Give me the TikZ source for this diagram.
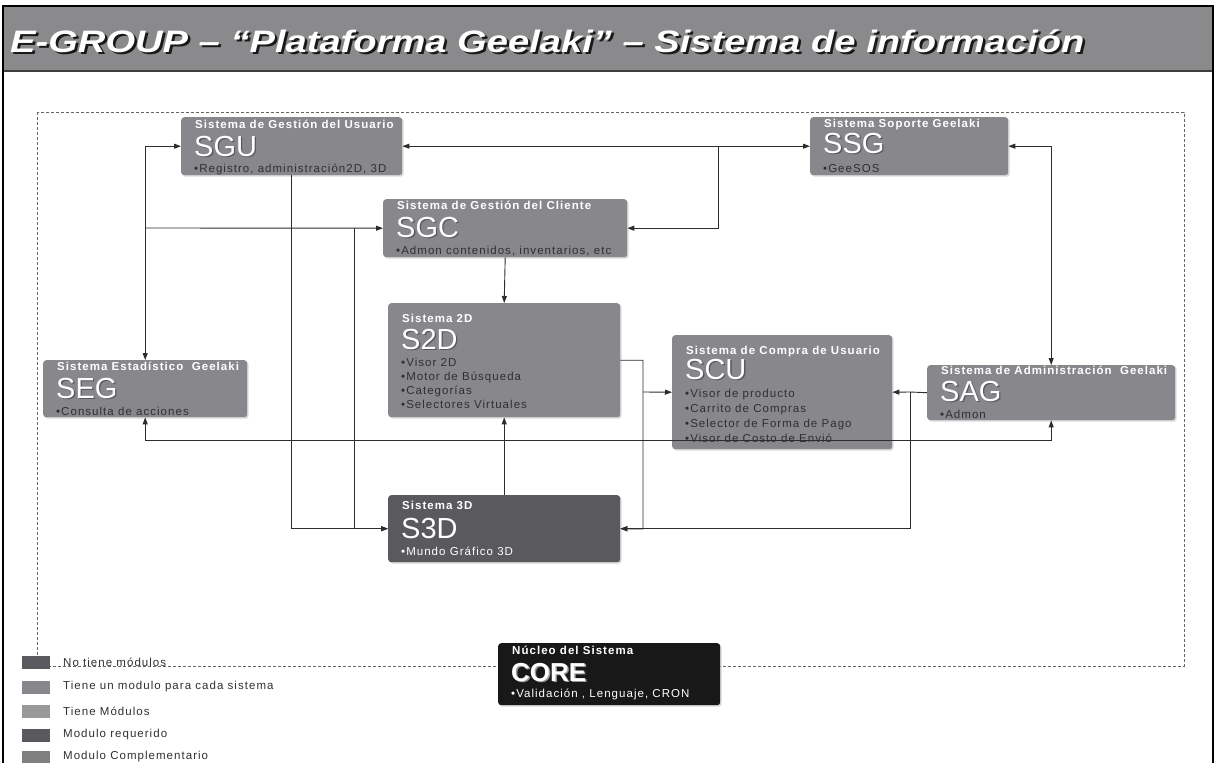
\documentclass[tikz,border=0pt]{standalone}
\usepackage{fontspec}
\setmainfont{Liberation Sans}
\newfontfamily\spacedfont[LetterSpace=9]{Liberation Sans}
\usetikzlibrary{arrows.meta}
\usetikzlibrary{shadows}

\definecolor{boxgray}{RGB}{136,136,140}
\definecolor{darkbox}{RGB}{90,90,94}
\definecolor{coreblack}{RGB}{24,24,24}
\definecolor{bargray}{RGB}{138,138,141}
\definecolor{itemgray}{RGB}{48,48,50}
\definecolor{linegray}{RGB}{45,45,45}

\newcommand{\shadowed}[3][black!65]{\leavevmode\rlap{\kern#2\raisebox{-#2}{\textcolor{#1}{#3}}}#3}

\tikzset{
  sysbox/.style={fill=boxgray, rounded corners=3pt, inner sep=0pt, anchor=north west,
    drop shadow={shadow xshift=1.5pt, shadow yshift=-1.5pt, fill=black!25, opacity=.6}},
  headtxt/.style={anchor=base west, inner sep=0pt, text=white, font=\spacedfont\bfseries\fontsize{11.5}{13}\selectfont},
  acrotxt/.style={anchor=base west, inner sep=0pt, text=white, font=\fontsize{29}{29}\selectfont},
  itemtxt/.style={anchor=base west, inner sep=0pt, text=itemgray, font=\spacedfont\fontsize{11.5}{13}\selectfont},
  titletxt/.style={anchor=base west, inner sep=0pt, text=white, font=\bfseries\itshape\fontsize{31}{31}\selectfont},
  link/.style={draw=linegray, line width=0.9pt, >={Triangle[length=7pt,width=5pt]}},
  legendbox/.style={minimum width=28pt, minimum height=13pt, inner sep=0pt, anchor=west},
  legendtxt/.style={anchor=west, inner sep=0pt, text=itemgray, font=\spacedfont\fontsize{11.5}{13}\selectfont}
}

\begin{document}
\begin{tikzpicture}[x=1pt, y=-1pt]
    \useasboundingbox (0,0) rectangle (1216,763);

    % title bar
    \fill[bargray] (3,7) rectangle (1213,71);
    \draw[black!75, line width=1.2pt] (3,71) -- (1213,71);
    \draw[black, line width=2.5pt] (3,770) -- (3,6) -- (1213,6) -- (1213,770);
    \node[titletxt] (title) at (10,52) {\shadowed[black!90]{2.5pt}{\scalebox{1.23}[1]{E-GROUP – “Plataforma Geelaki” – Sistema de información}}};

    % dashed frame
    \draw[black!60, line width=0.6pt, dash pattern=on 3pt off 2pt] (37,112) rectangle (1184,666);

    % boxes
    \node[sysbox, minimum width=221pt, minimum height=58pt] (sgu) at (181,117) {};
    \node[sysbox, minimum width=198pt, minimum height=58pt] (ssg) at (810,117) {};
    \node[sysbox, minimum width=244pt, minimum height=58pt] (sgc) at (383,199) {};
    \node[sysbox, minimum width=232pt, minimum height=114pt] (s2d) at (388,303) {};
    \node[sysbox, minimum width=220pt, minimum height=114pt] (scu) at (672,335) {};
    \node[sysbox, minimum width=248pt, minimum height=55pt] (sag) at (927,365) {};
    \node[sysbox, minimum width=204pt, minimum height=57pt] (seg) at (43,360) {};
    \node[sysbox, fill=darkbox, minimum width=232pt, minimum height=67pt] (s3d) at (388,495) {};
    \node[sysbox, fill=coreblack, minimum width=222pt, minimum height=62pt] (core) at (498,643) {};

    % connectors
    \draw[link, <->] (sgu.east) -- (ssg.west);
    \coordinate (jtop) at (718,146);
    \draw[link, ->] (jtop) |- (sgc.east);
    \draw[link, <->] (sgu.west) -| (seg.north);
    \coordinate (jleft) at (145,228);
    \draw[link, ->] (jleft) -- (sgc.west);
    \coordinate (jmid) at (354,228);
    \draw[link, ->] (jmid) |- (s3d.west);
    \draw[link, ->] (sgu.south) |- (s3d.west);
    \draw[link, ->] (sgc.south) -- (s2d.north);
    \draw[link, ->] (s3d.north) -- (s2d.south);
    \coordinate (jright) at (643,529);
    \draw[link, ->] (s2d.east) -| (jright) -- (s3d.east);
    \coordinate (jscu) at (643,392);
    \draw[link, ->] (jscu) -- (scu.west);
    \coordinate (jsag) at (910,392);
    \draw[link] (sag.west) -- (jsag);
    \draw[link, ->] (jsag) -- (scu.east);
    \draw[link, ->] (jsag) |- (s3d.east);
    \draw[link, <->] (ssg.east) -| (sag.north);
    \draw[link, <->] (seg.south) -- ++(0,23) -| (sag.south);

    % box texts
    \node[headtxt] (sgu-head) at (195,128) {Sistema de Gestión del Usuario};
    \node[acrotxt] (sgu-acro) at (194,156) {\shadowed{1.3pt}{SGU}};
    \node[itemtxt] (sgu-item) at (194,172) {•Registro, administración2D, 3D};

    \node[headtxt] (ssg-head) at (824,127) {Sistema Soporte Geelaki};
    \node[acrotxt] (ssg-acro) at (823,153) {\shadowed{1.3pt}{SSG}};
    \node[itemtxt] (ssg-item) at (823,172) {•GeeSOS};

    \node[headtxt] (sgc-head) at (397,209) {Sistema de Gestión del Cliente};
    \node[acrotxt] (sgc-acro) at (396,237) {\shadowed{1.3pt}{SGC}};
    \node[itemtxt] (sgc-item) at (396,254) {•Admon contenidos, inventarios, etc};

    \node[headtxt] (s2d-head) at (402,322) {Sistema 2D};
    \node[acrotxt] (s2d-acro) at (401,349) {\shadowed{1.3pt}{S2D}};
    \foreach \txt [count=\i] in {Visor 2D, Motor de Búsqueda, Categorías, Selectores Virtuales}
        \node[itemtxt] (s2d-item\i) at (401,352+14*\i) {•\txt};

    \node[headtxt] (scu-head) at (686,354) {Sistema de Compra de Usuario};
    \node[acrotxt] (scu-acro) at (685,379) {\shadowed{1.3pt}{SCU}};
    \foreach \txt [count=\i] in {Visor de producto, Carrito de Compras, Selector de Forma de Pago, Visor de Costo de Envió}
        \node[itemtxt] (scu-item\i) at (685,382+15*\i) {•\txt};

    \node[headtxt] (sag-head) at (941,374) {Sistema de Administración\ \ Geelaki};
    \node[acrotxt] (sag-acro) at (940,401) {\shadowed{1.3pt}{SAG}};
    \node[itemtxt] (sag-item) at (940,418) {•Admon};

    \node[headtxt] (seg-head) at (57,370) {Sistema Estadístico\ \ Geelaki};
    \node[acrotxt] (seg-acro) at (56,398) {\shadowed{1.3pt}{SEG}};
    \node[itemtxt] (seg-item) at (56,415) {•Consulta de acciones};

    \node[headtxt] (s3d-head) at (402,509) {Sistema 3D};
    \node[acrotxt] (s3d-acro) at (401,538) {\shadowed{1.3pt}{S3D}};
    \node[itemtxt, text=white] (s3d-item) at (401,555) {•Mundo Gráfico 3D};

    \node[headtxt] (core-head) at (512,654) {Núcleo del Sistema};
    \node[acrotxt, font=\bfseries\fontsize{26}{26}\selectfont] (core-acro) at (511,681) {\shadowed[black!40]{1.3pt}{CORE}};
    \node[itemtxt, text=white] (core-item) at (511,697) {•Validación , Lenguaje, CRON};

    % legend
    \node[legendbox, fill=darkbox] (leg1) at (22,662) {};
    \node[legendtxt] (leg1-txt) at (63,662) {No tiene módulos};
    \node[legendbox, fill=boxgray] (leg2) at (22,687) {};
    \node[legendtxt] (leg2-txt) at (63,687) {Tiene un modulo para cada sistema};
    \node[legendbox, fill=black!40] (leg3) at (22,711) {};
    \node[legendtxt] (leg3-txt) at (63,711) {Tiene Módulos};
    \node[legendbox, fill=darkbox] (leg4) at (22,735) {};
    \node[legendtxt] (leg4-txt) at (63,735) {Modulo requerido};
    \node[legendbox, fill=black!50] (leg5) at (22,757) {};
    \node[legendtxt] (leg5-txt) at (63,757) {Modulo Complementario};
\end{tikzpicture}
\end{document}
